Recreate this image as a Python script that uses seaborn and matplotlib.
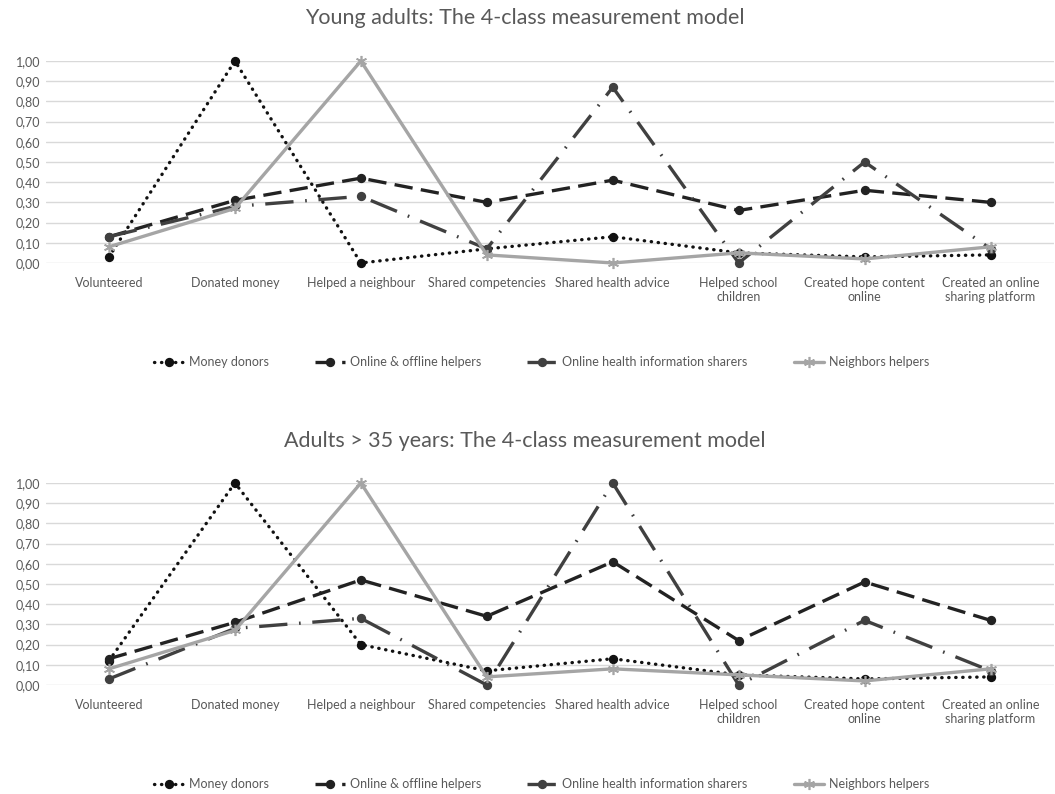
import matplotlib
matplotlib.use('Agg')
import matplotlib.pyplot as plt
from matplotlib.ticker import FuncFormatter
from matplotlib.lines import Line2D
import numpy as np
import seaborn as sns

categories = ['Volunteered', 'Donated money', 'Helped a neighbour', 'Shared competencies',
              'Shared health advice', 'Helped school\nchildren', 'Created hope content\nonline',
              'Created an online\nsharing platform']
series_names = ['Money donors', 'Online & offline helpers',
                'Online health information sharers', 'Neighbors helpers']

# Young adults
young_money = [0.03, 1.00, 0.00, 0.07, 0.13, 0.05, 0.03, 0.04]
young_online = [0.13, 0.31, 0.42, 0.30, 0.41, 0.26, 0.36, 0.30]
young_health = [0.13, 0.28, 0.33, 0.07, 0.87, 0.00, 0.50, 0.07]
young_neigh = [0.08, 0.27, 1.00, 0.04, 0.00, 0.05, 0.02, 0.08]

# Adults > 35
adult_money = [0.12, 1.00, 0.20, 0.07, 0.13, 0.05, 0.03, 0.04]
adult_online = [0.13, 0.31, 0.52, 0.34, 0.61, 0.22, 0.51, 0.32]
adult_health = [0.03, 0.28, 0.33, 0.00, 1.00, 0.00, 0.32, 0.07]
adult_neigh = [0.08, 0.27, 1.00, 0.04, 0.08, 0.05, 0.02, 0.08]

sns.set_style('white')
plt.rcParams['font.family'] = ['Lato', 'DejaVu Sans']

grey_txt = '#595959'
styles = [
    dict(color='#111111', linestyle=(0, (0.1, 2.0)), dash_capstyle='round', marker='o', markersize=5.5),
    dict(color='#222222', linestyle=(0, (5.5, 2.5)), marker='o', markersize=5.5),
    dict(color='#404040', linestyle=(0, (8.5, 3.5, 0.5, 3.5)), marker='o', markersize=5.5),
    dict(color='#a5a5a5', linestyle='-', marker=(6, 2, 0), markersize=8),
]

fig = plt.figure(figsize=(10.55, 7.94), dpi=100)
x = np.arange(len(categories))


def draw(ax, values, title, title_y, legend_y):
    for name, vals, st in zip(series_names, values, styles):
        sns.lineplot(x=x, y=vals, ax=ax, label=name, linewidth=2.4,
                     markeredgecolor=st['color'], markeredgewidth=1.2,
                     clip_on=False, **st)
    ax.set_xlim(-0.5, len(categories) - 0.5)
    ax.set_ylim(0, 1)
    ax.set_yticks(np.arange(0, 1.01, 0.1))
    ax.yaxis.set_major_formatter(FuncFormatter(lambda v, p: f'{v:.2f}'.replace('.', ',')))
    ax.set_xticks(x)
    ax.set_xticklabels(categories)
    ax.grid(axis='y', color='#d9d9d9', linewidth=1)
    ax.set_axisbelow(True)
    for s in ax.spines.values():
        s.set_visible(False)
    ax.tick_params(axis='both', length=0, colors=grey_txt, labelsize=9)
    ax.tick_params(axis='x', pad=10)
    ax.tick_params(axis='y', pad=4)
    ax.legend().remove()
    fig.text(0.497, title_y, title, ha='center', va='center', fontsize=15.5, color=grey_txt)
    handles = [Line2D([], [], linewidth=2.4, markeredgecolor=st['color'],
                      markeredgewidth=1.2, **st) for st in styles]
    fig.legend(handles, series_names, loc='center', bbox_to_anchor=(0.513, legend_y),
               ncol=4, frameon=False, fontsize=9, labelcolor=grey_txt,
               handlelength=2.4, columnspacing=3.7, handletextpad=0.4)


ax1 = fig.add_axes([0.0436, 0.6688, 0.955, 0.2544])
draw(ax1, [young_money, young_online, young_health, young_neigh],
     'Young adults: The 4-class measurement model', 0.977, 0.544)

ax2 = fig.add_axes([0.0436, 0.1373, 0.955, 0.2544])
draw(ax2, [adult_money, adult_online, adult_health, adult_neigh],
     'Adults > 35 years: The 4-class measurement model', 0.4446, 0.0126)

fig.savefig('out.png', dpi=100)
